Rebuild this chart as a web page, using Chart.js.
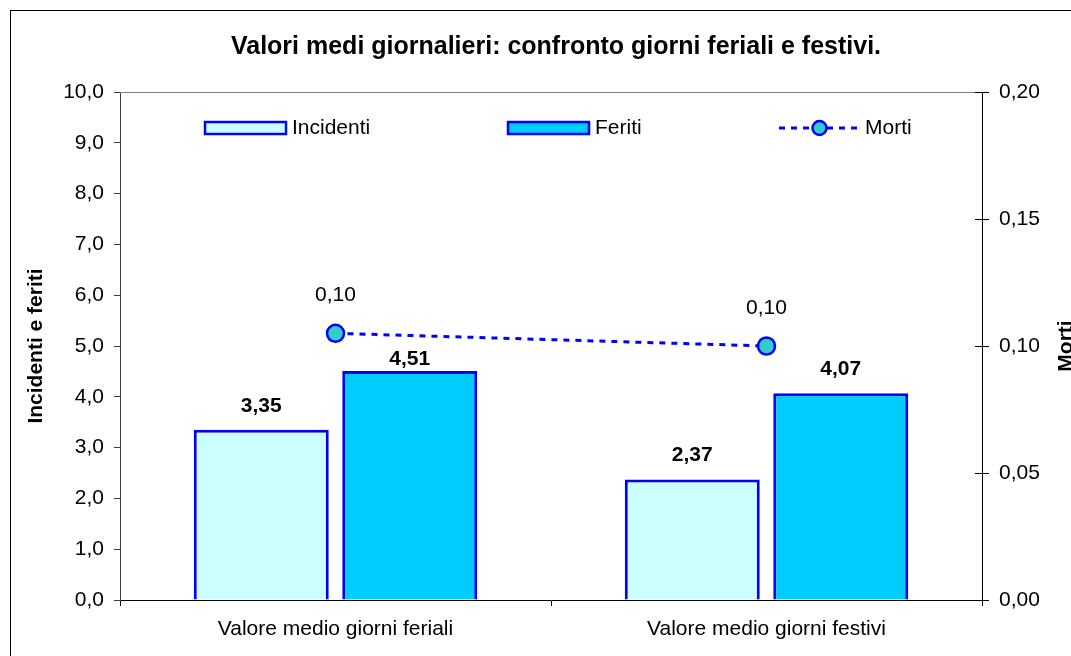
<!DOCTYPE html>
<html>
<head>
<meta charset="utf-8">
<script src="https://cdn.jsdelivr.net/npm/chart.js@4.4.1/dist/chart.umd.min.js"></script>
<style>
html,body{margin:0;padding:0;background:#fff;overflow:hidden}
#wrap{width:1071px;height:656px;position:relative}
</style>
</head>
<body>
<div id="wrap"><canvas id="c" width="1071" height="656"></canvas></div>
<script>
const categories = ['Valore medio giorni feriali', 'Valore medio giorni festivi'];
const incidenti = [3.35, 2.37];
const feriti = [4.51, 4.07];
const morti = [0.105, 0.100];
const leftTickLabels = ['0,0','1,0','2,0','3,0','4,0','5,0','6,0','7,0','8,0','9,0','10,0'];
const rightTickLabels = ['0,00','0,05','0,10','0,15','0,20'];
const seriesNames = ['Incidenti', 'Feriti', 'Morti'];
const titleText = 'Valori medi giornalieri: confronto giorni feriali e festivi.';
const leftAxisTitle = 'Incidenti e feriti';
const rightAxisTitle = 'Morti';

const FONT = "'Liberation Sans', Arial, sans-serif";
const BLUE = '#0000FF';
const fmt = (v, d) => v.toFixed(d).replace('.', ',');

const deco = {
  id: 'deco',
  beforeDatasetsDraw(chart) {
    const {ctx, chartArea: ca} = chart;
    ctx.save();
    ctx.strokeStyle = '#808080';
    ctx.lineWidth = 1;
    const ty = Math.round(ca.top) + 0.5;
    ctx.beginPath(); ctx.moveTo(ca.left, ty); ctx.lineTo(ca.right, ty); ctx.stroke();
    // inner ticks of right axis
    const y1 = chart.scales.y1;
    ctx.strokeStyle = '#000';
    y1.ticks.forEach((t, i) => {
      const py = Math.round(y1.getPixelForTick(i)) + 0.5;
      ctx.beginPath(); ctx.moveTo(ca.right - 7, py); ctx.lineTo(ca.right, py); ctx.stroke();
    });
    ctx.restore();
  },
  afterDraw(chart) {
    const {ctx, chartArea: ca} = chart;
    ctx.save();
    // outer frame
    ctx.strokeStyle = '#000';
    ctx.lineWidth = 1;
    ctx.strokeRect(10.5, 10.5, chart.width + 40, chart.height + 40);

    // axis titles
    ctx.fillStyle = '#000';
    ctx.font = 'bold 21px ' + FONT;
    ctx.textAlign = 'center';
    ctx.textBaseline = 'middle';
    const cy = (ca.top + ca.bottom) / 2;
    ctx.save(); ctx.translate(36, cy); ctx.rotate(-Math.PI / 2); ctx.fillText(leftAxisTitle, 0, 0); ctx.restore();
    ctx.save(); ctx.translate(1066, cy); ctx.rotate(-Math.PI / 2); ctx.fillText(rightAxisTitle, 0, 0); ctx.restore();

    // data labels
    const lineMeta = chart.getDatasetMeta(2);
    const pts = lineMeta.data;
    function lineYAt(x) {
      for (let i = 0; i < pts.length - 1; i++) {
        const a = pts[i], b = pts[i + 1];
        if (x >= a.x && x <= b.x) return a.y + (b.y - a.y) * (x - a.x) / (b.x - a.x);
      }
      return null;
    }
    ctx.font = 'bold 21px ' + FONT;
    [0, 1].forEach(di => {
      const meta = chart.getDatasetMeta(di);
      const vals = chart.data.datasets[di].data;
      meta.data.forEach((bar, i) => {
        let y = bar.y - 24;
        const ly = lineYAt(bar.x);
        if (ly !== null && Math.abs(ly - y) < 16) y = bar.y - 12;
        ctx.fillText(fmt(vals[i], 2), bar.x, y);
      });
    });
    ctx.font = '21px ' + FONT;
    pts.forEach((p, i) => {
      ctx.fillText(fmt(morti[i], 2), p.x, p.y - 38);
    });

    // legend
    const ly = 128;
    const ds = chart.data.datasets;
    ctx.textAlign = 'left';
    ctx.font = '21px ' + FONT;
    const boxW = 81, boxH = 12;
    const starts = [ca.left + 85, ca.left + 388, ca.left + 659];
    [0, 1].forEach(di => {
      const x = starts[di];
      ctx.fillStyle = ds[di].backgroundColor;
      ctx.fillRect(x, ly - boxH / 2, boxW, boxH);
      ctx.strokeStyle = ds[di].borderColor;
      ctx.lineWidth = 2.5;
      ctx.strokeRect(x, ly - boxH / 2, boxW, boxH);
      ctx.fillStyle = '#000';
      ctx.fillText(ds[di].label, x + boxW + 6, ly);
    });
    {
      const x = starts[2];
      const d = ds[2];
      ctx.strokeStyle = d.borderColor;
      ctx.lineWidth = d.borderWidth;
      ctx.setLineDash(d.borderDash);
      ctx.beginPath(); ctx.moveTo(x, ly); ctx.lineTo(x + boxW, ly); ctx.stroke();
      ctx.setLineDash([]);
      ctx.beginPath(); ctx.arc(x + boxW / 2, ly, 7, 0, Math.PI * 2);
      ctx.fillStyle = d.pointBackgroundColor; ctx.fill();
      ctx.lineWidth = d.pointBorderWidth; ctx.strokeStyle = d.pointBorderColor; ctx.stroke();
      ctx.fillStyle = '#000';
      ctx.fillText(d.label, x + boxW + 5, ly);
    }
    ctx.restore();
  }
};

Chart.defaults.font.family = FONT;
Chart.defaults.font.size = 21;
Chart.defaults.color = '#000';

new Chart(document.getElementById('c'), {
  type: 'bar',
  data: {
    labels: categories,
    datasets: [
      { label: seriesNames[0], data: incidenti, yAxisID: 'y', backgroundColor: '#CCFFFF', borderColor: BLUE, borderWidth: 3, order: 2,
        categoryPercentage: 0.689, barPercentage: 0.909 },
      { label: seriesNames[1], data: feriti, yAxisID: 'y', backgroundColor: '#00CCFF', borderColor: BLUE, borderWidth: 3, order: 2,
        categoryPercentage: 0.689, barPercentage: 0.909 },
      { type: 'line', label: seriesNames[2], data: morti, yAxisID: 'y1', borderColor: BLUE, borderWidth: 3, borderDash: [6, 6],
        pointRadius: 8.5, pointHoverRadius: 8.5, pointBackgroundColor: '#33CCCC', pointBorderColor: BLUE, pointBorderWidth: 2.5,
        fill: false, tension: 0, order: 0 }
    ]
  },
  options: {
    responsive: false,
    animation: false,
    devicePixelRatio: 1,
    layout: { padding: { left: 45, right: 4, top: 0, bottom: 0 } },
    plugins: {
      legend: { display: false },
      tooltip: { enabled: false },
      title: { display: true, text: titleText, font: { size: 25, weight: 'bold' }, color: '#000', padding: { top: 32, bottom: 30 } }
    },
    scales: {
      x: {
        position: 'bottom',
        grid: { display: true, drawOnChartArea: false, drawTicks: true, tickLength: 6, color: '#000', offset: true },
        border: { display: true, color: '#000', width: 1 },
        ticks: { padding: 11, maxRotation: 0, autoSkip: false, font: { size: 21 } },
        afterFit(s) { s.height = 56; }
      },
      y: {
        position: 'left',
        min: 0, max: 10,
        grid: { display: true, drawOnChartArea: false, drawTicks: true, tickLength: 6, color: '#404040' },
        border: { display: true, color: '#404040', width: 1 },
        ticks: { stepSize: 1, padding: 10, font: { size: 21 }, callback: (v, i) => leftTickLabels[i] },
        afterFit(s) { s.width = 75; }
      },
      y1: {
        position: 'right',
        min: 0, max: 0.2,
        grid: { display: true, drawOnChartArea: false, drawTicks: true, tickLength: 7, color: '#000' },
        border: { display: true, color: '#000', width: 1 },
        ticks: { stepSize: 0.05, padding: 10, font: { size: 21 }, callback: (v, i) => rightTickLabels[i] },
        afterFit(s) { s.width = 85; }
      }
    }
  },
  plugins: [deco]
});
</script>
</body>
</html>
